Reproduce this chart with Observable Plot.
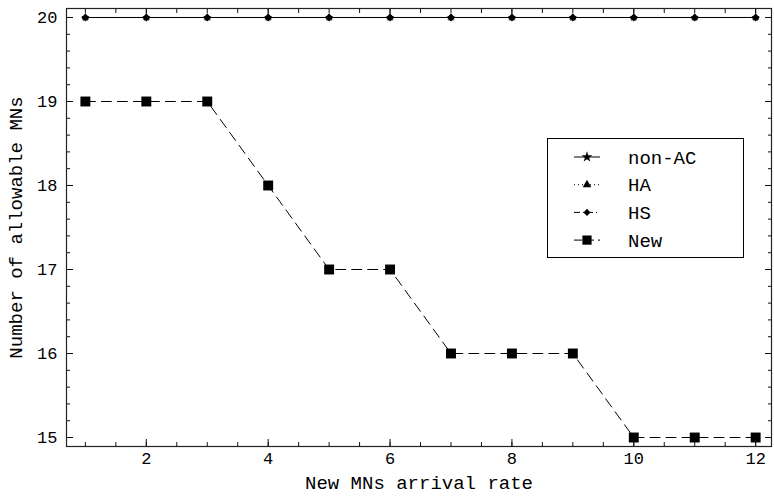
<!DOCTYPE html>
<html>
<head>
<meta charset="utf-8">
<script src="https://cdn.jsdelivr.net/npm/d3@7"></script>
<script src="https://cdn.jsdelivr.net/npm/@observablehq/plot@0.6"></script>
<style>
  html, body { margin: 0; padding: 0; background: #fff; }
  #wrap { position: relative; width: 774px; height: 497px; }
  #legend { position: absolute; left: 547px; top: 138px; }
</style>
</head>
<body>
<div id="wrap"><div id="chart"></div><div id="legend"></div></div>
<script>
const rates = [1, 2, 3, 4, 5, 6, 7, 8, 9, 10, 11, 12];
const nonAC = [20, 20, 20, 20, 20, 20, 20, 20, 20, 20, 20, 20];
const HA    = [20, 20, 20, 20, 20, 20, 20, 20, 20, 20, 20, 20];
const HS    = [20, 20, 20, 20, 20, 20, 20, 20, 20, 20, 20, 20];
const NEW   = [19, 19, 19, 18, 17, 17, 16, 16, 16, 15, 15, 15];
const xTicks = [2, 4, 6, 8, 10, 12];
const yTicks = [15, 16, 17, 18, 19, 20];
const xMinor = d3.range(1, 12.01, 0.5);
const yMinor = d3.range(15, 20.01, 0.2).map(v => Math.round(v * 10) / 10);

const seriesDefs = [
  {name: "non-AC", values: nonAC, symbol: "star", r: 2.6, dash: null},
  {name: "HA", values: HA, symbol: "triangle", r: 2.6, dash: "1,3"},
  {name: "HS", values: HS, symbol: "diamond2", r: 3.6, dash: "6,3,1,3"},
  {name: "New", values: NEW, symbol: "square", r: 5.6, dash: "10,6"}
];
const rows = seriesDefs.flatMap(s => rates.map((x, i) => ({series: s.name, x, y: s.values[i]})));

const W = 774, H = 497, ML = 66, MR = 3, MT = 8, MB = 51;
const font = "'Liberation Mono', 'DejaVu Sans Mono', monospace";
const marks = [];
for (const s of seriesDefs) {
  const d = rows.filter(r => r.series === s.name);
  marks.push(Plot.line(d, {x: "x", y: "y", stroke: "black", strokeWidth: 1, strokeDasharray: s.dash}));
}
for (const s of seriesDefs) {
  const d = rows.filter(r => r.series === s.name);
  marks.push(Plot.dot(d, {x: "x", y: "y", symbol: () => s.symbol, fill: "black", stroke: "none", r: s.r}));
}
const minorLen = 4, majorLen = 7;
const blank = () => "";
const tickColor = "#111";
// inward ticks: outward-drawn axis ticks shifted back inside the frame by their own length
function inwardTicks(ticks, len) {
  return [
    Plot.axisX({anchor: "bottom", ticks, tickSize: len, dy: -len, tickFormat: blank, label: null, stroke: tickColor}),
    Plot.axisX({anchor: "top", ticks, tickSize: len, dy: len, tickFormat: blank, label: null, stroke: tickColor})
  ];
}
function inwardTicksY(ticks, len) {
  return [
    Plot.axisY({anchor: "left", ticks, tickSize: len, dx: len, tickFormat: blank, label: null, stroke: tickColor}),
    Plot.axisY({anchor: "right", ticks, tickSize: len, dx: -len, tickFormat: blank, label: null, stroke: tickColor})
  ];
}
marks.push(
  ...inwardTicks(xMinor, minorLen),
  ...inwardTicks(xTicks, majorLen),
  ...inwardTicksY(yMinor, minorLen),
  ...inwardTicksY(yTicks, majorLen),
  Plot.frame({stroke: "#222", strokeWidth: 1.2}),
  Plot.axisX({anchor: "bottom", ticks: xTicks, tickSize: 0, tickPadding: 5, tickFormat: d3.format("d"), fontSize: 17,
    label: "New MNs arrival rate", labelAnchor: "center", labelArrow: "none", labelOffset: 42}),
  Plot.axisY({anchor: "left", ticks: yTicks, tickSize: 0, tickPadding: 9, tickFormat: d3.format("d"), fontSize: 17,
    label: "Number of allowable MNs", labelAnchor: "center", labelArrow: "none", labelOffset: 58})
);

const chart = Plot.plot({
  width: W, height: H, marginLeft: ML, marginRight: MR, marginTop: MT, marginBottom: MB,
  style: {fontFamily: font, fontSize: "17px", color: "black", background: "white"},
  x: {domain: [0.69, 12.26]},
  y: {domain: [14.893, 20.107]},
  marks
});
document.getElementById("chart").appendChild(chart);
d3.select(chart).selectAll("g[aria-label='x-axis label'] text, g[aria-label='y-axis label'] text").style("font-size", "19px");

const lw = 197, lh = 120;
const svg = d3.select("#legend").append("svg").attr("width", lw).attr("height", lh)
  .style("font-family", font).style("font-size", "19px");
svg.append("rect").attr("x", 0.5).attr("y", 0.5).attr("width", lw - 1).attr("height", lh - 1)
  .attr("fill", "white").attr("stroke", "black").attr("stroke-width", 1);
const symMap = {star: d3.symbolStar, triangle: d3.symbolTriangle, diamond2: d3.symbolDiamond2, square: d3.symbolSquare};
const legendSize = {"non-AC": 3.4, "HA": 3.2, "HS": 3.2, "New": 5.2};
seriesDefs.forEach((s, i) => {
  const cy = 19 + i * 27.7;
  const g = svg.append("g").attr("transform", `translate(0,${cy})`);
  g.append("line").attr("x1", 27).attr("x2", 53).attr("y1", 0).attr("y2", 0)
    .attr("stroke", "black").attr("stroke-dasharray", s.name === "New" ? "8,4" : s.dash);
  const size = Math.PI * legendSize[s.name] ** 2;
  g.append("path").attr("transform", "translate(40,0)").attr("d", d3.symbol(symMap[s.symbol], size)()).attr("fill", "black");
  g.append("text").attr("x", 81).attr("y", 0).attr("dy", "0.35em").text(s.name);
});
</script>
</body>
</html>
